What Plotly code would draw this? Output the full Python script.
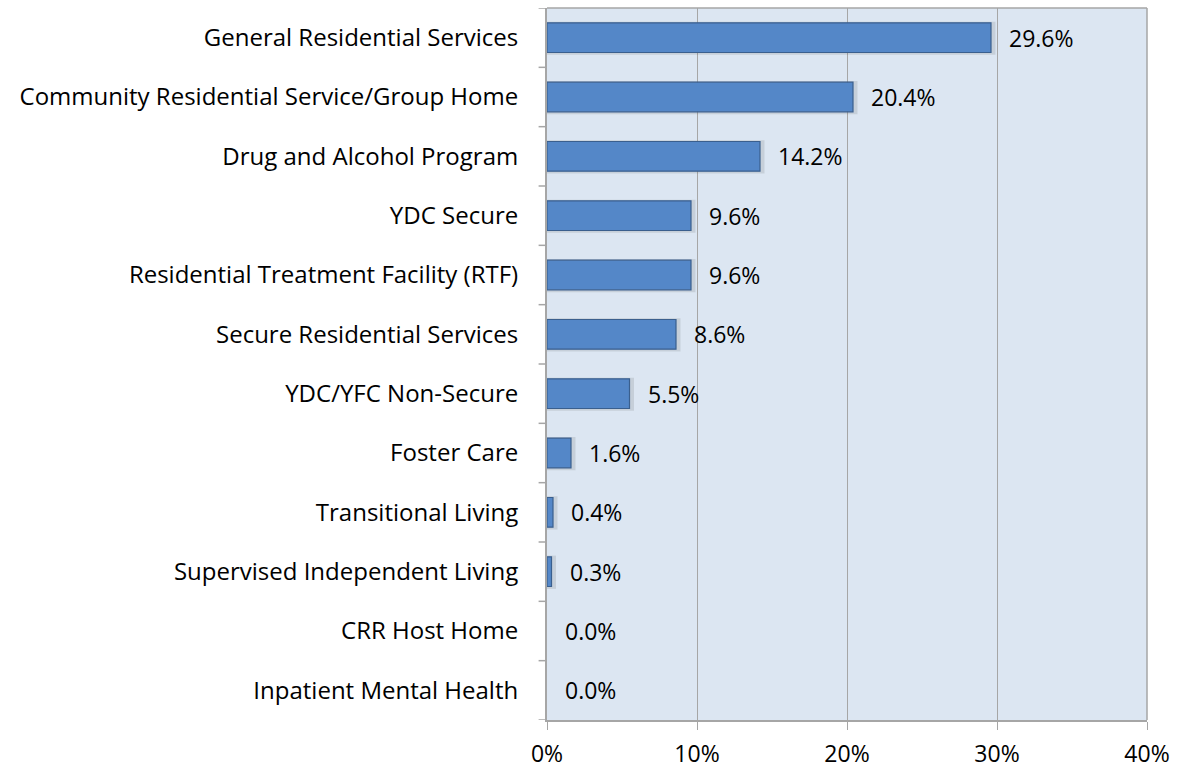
import plotly.graph_objects as go

# Share of placements by service type (percent)
categories = [
    "General Residential Services",
    "Community Residential Service/Group Home",
    "Drug and Alcohol Program",
    "YDC Secure",
    "Residential Treatment Facility (RTF)",
    "Secure Residential Services",
    "YDC/YFC Non-Secure",
    "Foster Care",
    "Transitional Living",
    "Supervised Independent Living",
    "CRR Host Home",
    "Inpatient Mental Health",
]
values = [29.6, 20.4, 14.2, 9.6, 9.6, 8.6, 5.5, 1.6, 0.4, 0.3, 0.0, 0.0]
x_ticks = [0, 10, 20, 30, 40]
x_tick_labels = ["0%", "10%", "20%", "30%", "40%"]

FONT = "Open Sans"
FS = 24

fig = go.Figure()

# soft drop shadow behind each non-zero bar
fig.add_trace(go.Bar(
    y=categories,
    x=[v + 0.3 if v > 0 else 0 for v in values],
    orientation="h",
    marker=dict(color="rgba(90,90,90,0.16)", line=dict(width=0)),
    hoverinfo="skip",
    showlegend=False,
    width=0.56,
    offset=-0.29,
))

fig.add_trace(go.Bar(
    y=categories,
    x=values,
    orientation="h",
    marker=dict(color="#5487C8",
                line=dict(color="#3A5F8E",
                          width=[1.2 if v > 0 else 0 for v in values])),
    showlegend=False,
    width=0.5,
    offset=-0.25,
))

# value labels placed just right of each bar
annotations = [
    dict(x=v, y=c, xref="x", yref="y", text=f"{v:.1f}%", showarrow=False,
         xanchor="left", yanchor="middle", xshift=16,
         font=dict(family=FONT, size=FS - 1, color="#000000"))
    for c, v in zip(categories, values)
]

fig.update_layout(
    width=1188,
    height=778,
    margin=dict(l=547, r=41, t=8, b=58),
    paper_bgcolor="#FFFFFF",
    plot_bgcolor="#DCE6F2",
    barmode="overlay",
    font=dict(family=FONT, size=FS, color="#000000"),
    annotations=annotations,
    xaxis=dict(
        range=[0, 40],
        tickvals=x_ticks,
        ticktext=x_tick_labels,
        showgrid=True,
        gridcolor="#A6A6A6",
        gridwidth=1,
        zeroline=False,
        showline=True,
        linecolor="#A6A6A6",
        linewidth=2,
        ticks="outside",
        ticklen=8,
        tickcolor="#A6A6A6",
        ticklabelstandoff=4,
        tickfont=dict(family=FONT, size=FS - 1),
    ),
    yaxis=dict(
        categoryorder="array",
        categoryarray=categories[::-1],
        showgrid=False,
        showline=True,
        linecolor="#A6A6A6",
        linewidth=2,
        ticks="",
        tickfont=dict(family=FONT, size=FS),
        ticklabelstandoff=22,
        range=[-0.5, len(categories) - 0.5],
    ),
    shapes=[
        dict(type="line", xref="paper", yref="paper", x0=1, x1=1, y0=0, y1=1,
             line=dict(color="#A6A6A6", width=1.5)),
        dict(type="line", xref="paper", yref="paper", x0=0, x1=1, y0=1, y1=1,
             line=dict(color="#A6A6A6", width=1.5)),
    ] + [
        # category boundary tick marks on the left axis
        dict(type="line", xref="paper", yref="y", x0=-0.014, x1=0,
             y0=i - 0.5, y1=i - 0.5, line=dict(color="#A6A6A6", width=1.5))
        for i in range(len(categories) + 1)
    ],
)

fig.write_html("out.html")
